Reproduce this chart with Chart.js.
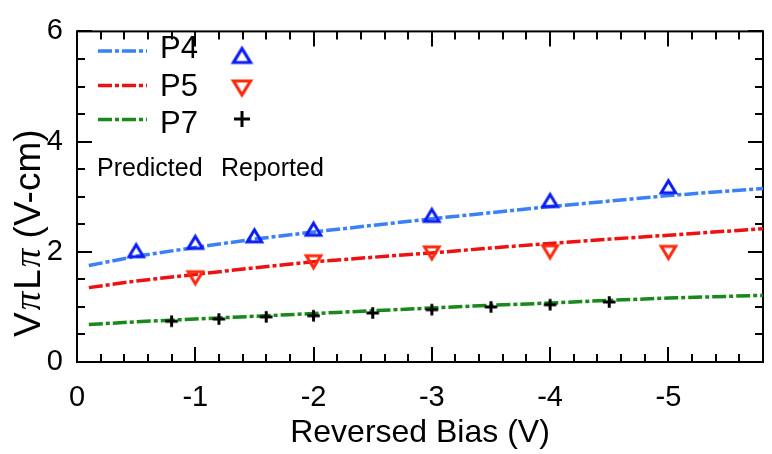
<!DOCTYPE html>
<html><head><meta charset="utf-8">
<script src="https://cdn.jsdelivr.net/npm/chart.js@4"></script>
<style>html,body{margin:0;padding:0;background:#fff;}#wrap{width:772px;height:454px;position:relative;}</style>
</head><body><div id="wrap"><canvas id="c" width="772" height="454"></canvas></div>
<script>
// ---- data ----
const predBias = [-0.1,-0.5,-1,-1.5,-2,-2.5,-3,-3.5,-4,-4.5,-5,-5.8];
const predP4 = [1.75,1.92,2.08,2.23,2.36,2.48,2.60,2.71,2.82,2.92,3.02,3.15];
const predP5 = [1.35,1.47,1.59,1.71,1.82,1.90,1.98,2.07,2.15,2.23,2.30,2.42];
const predP7 = [0.68,0.73,0.78,0.83,0.88,0.93,0.98,1.03,1.07,1.12,1.16,1.21];
const repBiasP4 = [-0.5,-1,-1.5,-2,-3,-4,-5];
const repP4 = [2.02,2.17,2.29,2.41,2.66,2.93,3.18];
const repBiasP5 = [-1,-2,-3,-4,-5];
const repP5 = [1.53,1.82,1.98,2.00,1.99];
const repBiasP7 = [-0.8,-1.2,-1.6,-2,-2.5,-3,-3.5,-4,-4.5];
const repP7 = [0.74,0.78,0.82,0.84,0.89,0.95,1.00,1.04,1.09];
const seriesNames = ['P4','P5','P7'];
const xTickValues = [0,-1,-2,-3,-4,-5];
const yTickValues = [0,2,4,6];
const legendHeads = ['Predicted','Reported'];
const yTitleParts = ['V','π','L','π',' (V-cm)'];
const xTitle = 'Reversed Bias (V)';

const FONT = '"Liberation Sans", Arial, Helvetica, sans-serif';
const COL = {b:'#3a80f6', r:'#ee1111', g:'#18891a', bm:'#0a1cf2', rm:'#ff2a0e', k:'#000'};
const DASH = [14,3,4,3];

function mk(kind, w, h, lw, color){
  const pad = lw + 3;
  const cv = document.createElement('canvas');
  cv.width = Math.round(w + pad*2); cv.height = Math.round(h + pad*2);
  const g = cv.getContext('2d');
  const cx = cv.width/2, cy = cv.height/2;
  g.strokeStyle = color; g.lineWidth = lw; g.lineJoin = 'miter';
  g.beginPath();
  if (kind === 'up') { g.moveTo(cx, cy-h/2); g.lineTo(cx+w/2, cy+h/2); g.lineTo(cx-w/2, cy+h/2); g.closePath(); }
  else if (kind === 'down') { g.moveTo(cx-w/2, cy-h/2); g.lineTo(cx+w/2, cy-h/2); g.lineTo(cx, cy+h/2); g.closePath(); }
  else { g.moveTo(cx-w/2, cy); g.lineTo(cx+w/2, cy); g.moveTo(cx, cy-h/2); g.lineTo(cx, cy+h/2); }
  g.stroke();
  return cv;
}
const M = {
  up: mk('up', 14.5, 12, 3, COL.bm), down: mk('down', 14.5, 12, 3, COL.rm), plus: mk('plus', 12.5, 11.5, 3, COL.k),
  upL: mk('up', 17, 14, 3.2, COL.bm), downL: mk('down', 17, 14, 3.2, COL.rm), plusL: mk('plus', 16, 16, 3, COL.k)
};
const xy = (xs, ys) => xs.map((x, i) => ({x, y: ys[i]}));

const framePlugin = {
  id: 'frame',
  beforeDatasetsDraw(chart) {
    const {ctx, chartArea: a, scales: {x, y}} = chart;
    ctx.save();
    ctx.strokeStyle = '#000'; ctx.lineWidth = 2; ctx.lineCap = 'butt';
    ctx.beginPath();
    for (let i = 0; i <= 29; i++) {
      const v = -i * 0.2, px = Math.round(x.getPixelForValue(v));
      const L = (i % 5 === 0) ? 15 : 8;
      ctx.moveTo(px, a.bottom); ctx.lineTo(px, a.bottom - L);
      ctx.moveTo(px, a.top); ctx.lineTo(px, a.top + L);
    }
    for (let i = 0; i <= 12; i++) {
      const v = i * 0.5, py = Math.round(y.getPixelForValue(v));
      const L = (i % 4 === 0) ? 15 : 8;
      ctx.moveTo(a.left, py); ctx.lineTo(a.left + L, py);
      ctx.moveTo(a.right, py); ctx.lineTo(a.right - L, py);
    }
    ctx.stroke();
    ctx.strokeRect(a.left, a.top, a.right - a.left, a.bottom - a.top);
    ctx.restore();
  },
  afterDraw(chart) {
    const {ctx} = chart;
    ctx.save();
    // legend
    const lineY = [51, 85.5, 119.5], textY = [58, 95.5, 132.5], mkY = [55.5, 88, 119];
    const lc = [COL.b, COL.r, COL.g], mks = [M.upL, M.downL, M.plusL];
    for (let i = 0; i < 3; i++) {
      ctx.strokeStyle = lc[i]; ctx.lineWidth = 3.5; ctx.setLineDash(DASH);
      ctx.beginPath(); ctx.moveTo(98, lineY[i]); ctx.lineTo(147, lineY[i]); ctx.stroke();
      ctx.setLineDash([]);
      ctx.fillStyle = '#000'; ctx.font = '31px ' + FONT; ctx.textBaseline = 'alphabetic'; ctx.textAlign = 'left';
      ctx.fillText(seriesNames[i], 160, textY[i]);
      const m = mks[i];
      ctx.drawImage(m, 242 - m.width/2, mkY[i] - m.height/2);
    }
    ctx.font = '25px ' + FONT;
    ctx.fillText(legendHeads[0], 97, 175.5);
    ctx.fillText(legendHeads[1], 221, 175.5);
    // y title, read upward starting near the bottom of the axis
    ctx.translate(40, 337);
    ctx.rotate(-Math.PI/2);
    const sans = '37px ' + FONT, ser = 'italic 37px "Liberation Serif", "DejaVu Serif", serif';
    const fonts = [sans, ser, sans, ser, sans];
    const gaps = [2, 2, 2, 0, 0];
    let tx = 0;
    yTitleParts.forEach((t, i) => { ctx.font = fonts[i]; ctx.fillText(t, tx, 0); tx += ctx.measureText(t).width + gaps[i]; });
    ctx.restore();
  }
};

new Chart(document.getElementById('c'), {
  type: 'scatter',
  data: {
    datasets: [
      {label:'P4 reported', data: xy(repBiasP4, repP4), pointStyle: M.up, pointRadius: 8, showLine:false},
      {label:'P5 reported', data: xy(repBiasP5, repP5), pointStyle: M.down, pointRadius: 8, showLine:false},
      {label:'P7 reported', data: xy(repBiasP7, repP7), pointStyle: M.plus, pointRadius: 8, showLine:false},
      {label:'P4', data: xy(predBias, predP4), showLine:true, borderColor: COL.b, borderWidth: 3.5, borderDash: DASH, pointRadius: 0, tension: 0},
      {label:'P5', data: xy(predBias, predP5), showLine:true, borderColor: COL.r, borderWidth: 3.5, borderDash: DASH, pointRadius: 0, tension: 0},
      {label:'P7', data: xy(predBias, predP7), showLine:true, borderColor: COL.g, borderWidth: 3.5, borderDash: DASH, pointRadius: 0, tension: 0}
    ]
  },
  options: {
    responsive: false, animation: false, events: [],
    layout: {padding: {top: 14, right: 0, left: 0, bottom: 0}},
    plugins: {legend: {display: false}, tooltip: {enabled: false}},
    scales: {
      x: {
        type: 'linear', reverse: true, min: -5.8, max: 0,
        afterBuildTicks: s => { s.ticks = xTickValues.map(v => ({value: v})); },
        afterFit: s => { s.height = 92; },
        grid: {display: false, drawTicks: false},
        border: {display: false},
        ticks: {color: '#000', font: {family: FONT, size: 29}, padding: 19, maxRotation: 0,
                callback: v => String(v)},
        title: {display: true, text: xTitle, color: '#000', font: {family: FONT, size: 32}, padding: {top: 0, bottom: 2}}
      },
      y: {
        type: 'linear', min: 0, max: 6,
        afterBuildTicks: s => { s.ticks = yTickValues.map(v => ({value: v})); },
        afterFit: s => { s.width = 77; },
        grid: {display: false, drawTicks: false},
        border: {display: false},
        ticks: {color: '#000', font: {family: FONT, size: 29}, padding: 14, callback: v => String(v)},
        title: {display: false}
      }
    }
  },
  plugins: [framePlugin]
});
</script></body></html>
